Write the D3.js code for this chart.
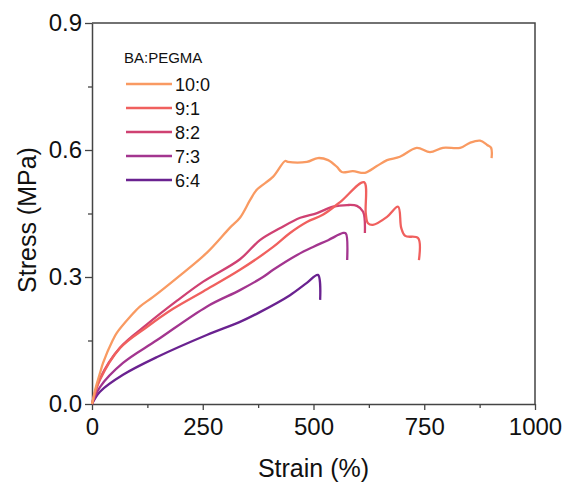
<!DOCTYPE html>
<html>
<head>
<meta charset="utf-8">
<script src="https://cdn.jsdelivr.net/npm/d3@7"></script>
<style>
  body { margin: 0; background: #fff; }
  svg text { font-family: "Liberation Sans", Arial, sans-serif; fill: #111; }
</style>
</head>
<body>
<div id="vis"></div>
<script>
// series names and colours
const groups = ["10:0", "9:1", "8:2", "7:3", "6:4"];
const colors = ["#f99a62", "#f0605e", "#cf4172", "#a3358f", "#6a2290"];

// strain (%) / stress (MPa)
const strain_100 = [0, 2, 7, 18, 25, 47, 56, 86, 108, 138, 192, 259, 311, 334, 357, 372, 409, 436, 442, 485, 510, 533, 553, 564, 589, 616, 643, 666, 695, 733, 763, 792, 831, 853, 876, 892, 901, 902];
const stress_100 = [0, 0.009, 0.033, 0.073, 0.097, 0.151, 0.168, 0.206, 0.23, 0.253, 0.298, 0.357, 0.416, 0.44, 0.482, 0.506, 0.537, 0.574, 0.572, 0.572, 0.581, 0.576, 0.56, 0.548, 0.55, 0.546, 0.562, 0.576, 0.584, 0.605, 0.595, 0.605, 0.605, 0.617, 0.622, 0.612, 0.605, 0.581];

const strain_91 = [0, 18, 63, 124, 183, 251, 334, 409, 447, 485, 521, 560, 614, 618, 623, 634, 666, 691, 698, 707, 736, 738];
const stress_91 = [0, 0.057, 0.132, 0.182, 0.225, 0.266, 0.317, 0.371, 0.404, 0.43, 0.447, 0.477, 0.524, 0.45, 0.427, 0.423, 0.442, 0.466, 0.416, 0.397, 0.392, 0.34];

const strain_82 = [0, 18, 63, 124, 192, 251, 334, 379, 424, 470, 508, 544, 576, 598, 612, 616];
const stress_82 = [0, 0.06, 0.133, 0.188, 0.244, 0.289, 0.342, 0.387, 0.415, 0.44, 0.451, 0.466, 0.47, 0.468, 0.454, 0.404];

const strain_73 = [0, 18, 70, 147, 259, 334, 386, 409, 463, 499, 533, 567, 573, 576];
const stress_73 = [0, 0.04, 0.097, 0.151, 0.23, 0.269, 0.30, 0.317, 0.352, 0.371, 0.387, 0.404, 0.403, 0.34];

const strain_64 = [0, 18, 70, 147, 259, 334, 379, 447, 485, 510, 515];
const stress_64 = [0, 0.029, 0.069, 0.111, 0.163, 0.194, 0.217, 0.257, 0.286, 0.305, 0.246];

const xTicks = [0, 250, 500, 750, 1000];
const yTicks = [0, 0.3, 0.6, 0.9];

const strains = [strain_100, strain_91, strain_82, strain_73, strain_64];
const stresses = [stress_100, stress_91, stress_82, stress_73, stress_64];

const margin = {top: 23, right: 33, bottom: 84, left: 92},
    width = 568 - margin.left - margin.right,
    height = 488 - margin.top - margin.bottom;

const svg = d3.select("#vis")
  .append("svg")
    .attr("width", 568)
    .attr("height", 488)
  .append("g")
    .attr("transform", "translate(" + margin.left + "," + margin.top + ")");

const x = d3.scaleLinear().domain([0, 1000]).range([0, width]);
const y = d3.scaleLinear().domain([0, 0.9]).range([height, 0]);

// minor ticks
svg.append("g")
  .attr("transform", "translate(0," + height + ")")
  .call(d3.axisBottom(x).tickValues([125, 375, 625, 875]).tickSize(4).tickFormat(""))
  .call(g => g.select(".domain").remove())
  .selectAll("line").attr("stroke", "#444").attr("stroke-width", 1.3);
svg.append("g")
  .call(d3.axisLeft(y).tickValues([0.15, 0.45, 0.75]).tickSize(4).tickFormat(""))
  .call(g => g.select(".domain").remove())
  .selectAll("line").attr("stroke", "#444").attr("stroke-width", 1.3);

// X axis
const gx = svg.append("g")
  .attr("transform", "translate(0," + height + ")")
  .call(d3.axisBottom(x).tickValues(xTicks).tickSize(6).tickSizeOuter(0).tickPadding(8)
    .tickFormat(d3.format("d")));
gx.selectAll("text").style("font-size", "24px");

// Y axis
const gy = svg.append("g")
  .call(d3.axisLeft(y).tickValues(yTicks).tickSize(7).tickSizeOuter(0).tickPadding(3)
    .tickFormat(d3.format(".1f")));
gy.selectAll("text").style("font-size", "24px");

[gx, gy].forEach(g => {
  g.select(".domain").attr("stroke", "#444").attr("stroke-width", 1.5);
  g.selectAll(".tick line").attr("stroke", "#444").attr("stroke-width", 1.3);
});

// top and right frame
svg.append("path")
  .attr("d", "M0,0H" + width + "V" + height)
  .attr("fill", "none")
  .attr("stroke", "#444")
  .attr("stroke-width", 1.5);

// axis titles
svg.append("text")
  .attr("x", width / 2)
  .attr("y", height + 73)
  .attr("text-anchor", "middle")
  .style("font-size", "25px")
  .text("Strain (%)");

svg.append("text")
  .attr("transform", "translate(" + (-56) + "," + 197 + ") rotate(-90)")
  .attr("text-anchor", "middle")
  .style("font-size", "25px")
  .text("Stress (MPa)");

// curves
const line = d3.line()
  .x(d => x(d[0]))
  .y(d => y(d[1]))
  .curve(d3.curveCatmullRom.alpha(0.5));

// draw 10:0 last so it sits on top
for (let i = groups.length - 1; i >= 0; i--) {
  const pts = strains[i].map((s, j) => [s, stresses[i][j]]);
  svg.append("path")
    .datum(pts)
    .attr("fill", "none")
    .attr("stroke", colors[i])
    .attr("stroke-width", 2.3)
    .attr("stroke-linejoin", "round")
    .attr("d", line);
}

// legend
const legend = svg.append("g").attr("transform", "translate(32,40)");
legend.append("text")
  .attr("x", 0)
  .attr("y", 0)
  .style("font-size", "15px")
  .text("BA:PEGMA");

groups.forEach((gname, i) => {
  const ly = 21 + i * 24;
  legend.append("line")
    .attr("x1", 2).attr("x2", 48)
    .attr("y1", ly).attr("y2", ly)
    .attr("stroke", colors[i])
    .attr("stroke-width", 2.3);
  legend.append("text")
    .attr("x", 51)
    .attr("y", ly + 6.5)
    .style("font-size", "18px")
    .text(gname);
});
</script>
</body>
</html>
